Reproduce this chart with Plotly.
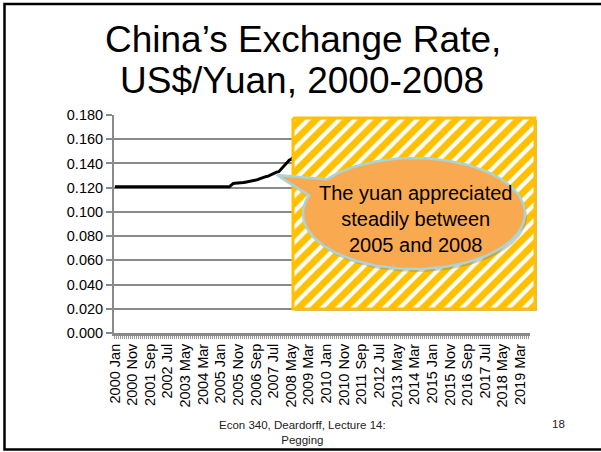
import math
import plotly.graph_objects as go

# ---------------- data ----------------
month_names = ["Jan", "Feb", "Mar", "Apr", "May", "Jun",
               "Jul", "Aug", "Sep", "Oct", "Nov", "Dec"]
categories = [f"{yr} {m}" for yr in range(2000, 2020) for m in month_names][:236]

tick_labels = ["2000 Jan", "2000 Nov", "2001 Sep", "2002 Jul", "2003 May", "2004 Mar",
               "2005 Jan", "2005 Nov", "2006 Sep", "2007 Jul", "2008 May", "2009 Mar",
               "2010 Jan", "2010 Nov", "2011 Sep", "2012 Jul", "2013 May", "2014 Mar",
               "2015 Jan", "2015 Nov", "2016 Sep", "2017 Jul", "2018 May", "2019 Mar"]

rate_months = ["2000 Jan", "2005 Jun",
               "2005 Jul", "2005 Aug", "2005 Sep", "2005 Oct", "2005 Nov", "2005 Dec",
               "2006 Jan", "2006 Feb", "2006 Mar", "2006 Apr", "2006 May", "2006 Jun",
               "2006 Jul", "2006 Aug", "2006 Sep", "2006 Oct", "2006 Nov", "2006 Dec",
               "2007 Jan", "2007 Feb", "2007 Mar", "2007 Apr", "2007 May", "2007 Jun",
               "2007 Jul", "2007 Aug", "2007 Sep", "2007 Oct", "2007 Nov", "2007 Dec",
               "2008 Jan", "2008 Feb", "2008 Mar", "2008 Apr", "2008 May", "2008 Jun"]
rate_values = [0.1208, 0.1208,
               0.1220, 0.1234, 0.1236, 0.1236, 0.1237, 0.1238,
               0.1240, 0.1242, 0.1245, 0.1248, 0.1247, 0.1249,
               0.1251, 0.1254, 0.1260, 0.1266, 0.1272, 0.1278,
               0.1284, 0.1290, 0.1293, 0.1295, 0.1303, 0.1309,
               0.1319, 0.1322, 0.1330, 0.1332, 0.1348, 0.1357,
               0.1380, 0.1395, 0.1414, 0.1429, 0.1434, 0.1449]

# ---------------- figure ----------------
W, H = 601, 452
FONT = "Liberation Sans, Arial, sans-serif"
GRID = "#8a8a8a"

fig = go.Figure()

fig.add_trace(go.Scatter(x=rate_months, y=rate_values, mode="lines",
                         line=dict(color="black", width=3),
                         xaxis="x", yaxis="y", showlegend=False,
                         hoverinfo="skip"))

# overlay decorations in pixel space (x2/y2)
# shadow of hatched box
fig.add_trace(go.Scatter(x=[295, 537, 537, 295, 295], y=[120, 120, 311, 311, 120],
                         mode="lines", fill="toself", fillcolor="#b8b8b8",
                         line=dict(width=0), xaxis="x2", yaxis="y2",
                         showlegend=False, hoverinfo="skip"))
# hatched box
fig.add_trace(go.Scatter(x=[293, 535, 535, 293, 293], y=[118, 118, 309, 309, 118],
                         mode="lines", fill="toself", fillcolor="white",
                         fillpattern=dict(shape="/", fgcolor="#FFC000", bgcolor="white",
                                          fgopacity=1, size=11, solidity=0.62),
                         line=dict(color="#FFC000", width=3),
                         xaxis="x2", yaxis="y2", showlegend=False, hoverinfo="skip"))

# callout (ellipse with wedge)
cx, cy, rx, ry = 414, 213.5, 111, 55.5
tip = (277, 175)
a0, a1 = 218, 559
px, py = [], []
n = 140
for i in range(n + 1):
    a = math.radians(a0 + (a1 - a0) * i / n)
    px.append(cx + rx * math.cos(a))
    py.append(cy + ry * math.sin(a))
px += [tip[0], px[0]]
py += [tip[1], py[0]]
# soft shadow
fig.add_trace(go.Scatter(x=[v + 2 for v in px], y=[v + 3 for v in py], mode="lines",
                         fill="toself", fillcolor="rgba(120,120,120,0.35)",
                         line=dict(width=0), xaxis="x2", yaxis="y2",
                         showlegend=False, hoverinfo="skip"))
fig.add_trace(go.Scatter(x=px, y=py, mode="lines", fill="toself",
                         fillcolor="#F9A94F",
                         line=dict(color="#A9D4DA", width=2.5),
                         xaxis="x2", yaxis="y2", showlegend=False, hoverinfo="skip"))

annotations = [
    dict(text="China’s Exchange Rate,", x=303, y=39, xref="x2", yref="y2",
         showarrow=False, font=dict(family=FONT, size=37, color="black"),
         xanchor="center", yanchor="middle"),
    dict(text="US$/Yuan, 2000-2008", x=302, y=80, xref="x2", yref="y2",
         showarrow=False, font=dict(family=FONT, size=37, color="black"),
         xanchor="center", yanchor="middle"),
    dict(text="The yuan appreciated<br>steadily between<br>2005 and 2008",
         x=415, y=219, xref="x2", yref="y2", showarrow=False,
         font=dict(family=FONT, size=20, color="black"),
         xanchor="center", yanchor="middle", align="center"),
    dict(text="Econ 340, Deardorff, Lecture 14:<br>Pegging", x=302, y=432,
         xref="x2", yref="y2", showarrow=False,
         font=dict(family=FONT, size=11.5, color="#222222"),
         xanchor="center", yanchor="middle", align="center"),
    dict(text="18", x=558, y=424, xref="x2", yref="y2", showarrow=False,
         font=dict(family=FONT, size=11.5, color="#222222"),
         xanchor="center", yanchor="middle"),
]

shapes = [
    # slide frame
    dict(type="rect", xref="x2", yref="y2", x0=4.5, y0=4, x1=610, y1=449.5,
         line=dict(color="black", width=2.5), fillcolor="rgba(0,0,0,0)", layer="above"),
    # dense category tick band under the x axis
    dict(type="line", xref="x2", yref="y2", x0=114, x1=530, y0=337.5, y1=337.5,
         line=dict(color="#9a9a9a", width=3, dash="1px,1px"), layer="below"),
]

fig.update_layout(
    width=W, height=H,
    margin=dict(l=0, r=0, t=0, b=0, pad=0, autoexpand=False),
    paper_bgcolor="white", plot_bgcolor="rgba(0,0,0,0)",
    showlegend=False,
    font=dict(family=FONT, color="black"),
    xaxis=dict(type="category", categoryorder="array", categoryarray=categories,
               range=[-0.5, len(categories) - 0.5],
               domain=[114 / W, 530 / W], anchor="y", automargin=False,
               tickmode="array", tickvals=tick_labels, ticktext=tick_labels,
               tickangle=-90, tickfont=dict(family=FONT, size=14.5, color="black"),
               showgrid=False, showline=True, linecolor=GRID, linewidth=3,
               ticks="outside", ticklen=2, tickcolor="rgba(0,0,0,0)",
               zeroline=False, fixedrange=True),
    yaxis=dict(range=[0, 0.18], dtick=0.02, tickformat=".3f",
               domain=[(H - 333) / H, (H - 115) / H], anchor="x", automargin=False,
               tickfont=dict(family=FONT, size=14.5, color="black"),
               showgrid=True, gridcolor=GRID, gridwidth=2,
               showline=True, linecolor=GRID, linewidth=2,
               ticks="outside", ticklen=6, tickcolor=GRID, tickwidth=2,
               zeroline=False, fixedrange=True),
    xaxis2=dict(domain=[0, 1], range=[0, W], anchor="y2", visible=False,
                automargin=False, fixedrange=True),
    yaxis2=dict(domain=[0, 1], range=[H, 0], anchor="x2", visible=False,
                automargin=False, fixedrange=True),
    annotations=annotations,
    shapes=shapes,
)

fig.write_html("out.html")
